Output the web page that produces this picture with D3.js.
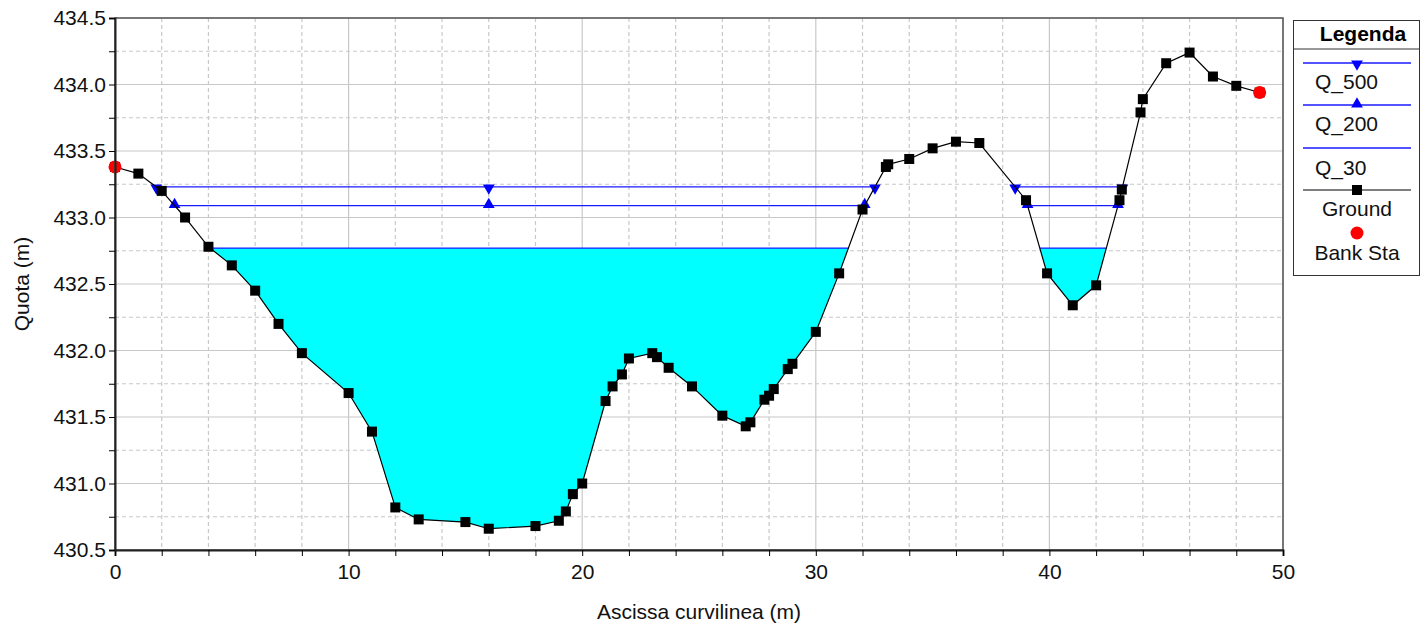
<!DOCTYPE html>
<html><head><meta charset="utf-8">
<script src="https://cdn.jsdelivr.net/npm/d3@7/dist/d3.min.js"></script>
<style>body{margin:0;background:#fff}svg{display:block;font-family:"Liberation Sans",Arial,sans-serif}</style>
</head><body><svg id="c" width="1427" height="631"></svg>
<script>
const groundX = [0,1,2,3,4,5,6,7,8,10,11,12,13,15,16,18,19,19.3,19.6,20,21,21.3,21.7,22,23,23.2,23.7,24.7,26,27,27.2,27.8,28,28.2,28.8,29,30,31,32,33,33.1,34,35,36,37,39,39.9,41,42,43,43.1,43.9,44,45,46,47,48,49];
const groundY = [433.38,433.33,433.2,433.0,432.78,432.64,432.45,432.2,431.98,431.68,431.39,430.82,430.73,430.71,430.66,430.68,430.72,430.79,430.92,431.0,431.62,431.73,431.82,431.94,431.98,431.95,431.87,431.73,431.51,431.43,431.46,431.63,431.66,431.71,431.86,431.9,432.14,432.58,433.06,433.38,433.4,433.44,433.52,433.57,433.56,433.13,432.58,432.34,432.49,433.13,433.21,433.79,433.89,434.16,434.24,434.06,433.99,433.94];
const bankX = [0, 49];
const bankY = [433.38, 433.94];
const profileNames = ["Q_500", "Q_200", "Q_30"];
const profileWS = [433.23, 433.09, 432.77];
const profileMarker = ["down", "up", "none"];
const wsMarkerStations = [16];
const xTicks = [0,10,20,30,40,50];
const yTicks = [430.5,431.0,431.5,432.0,432.5,433.0,433.5,434.0,434.5];
const legendLabels = ["Q_500","Q_200","Q_30","Ground","Bank Sta"];

const svg = d3.select("#c");
const L = 115, R = 1283, T = 18, B = 550;
const FS = 21;
const x = d3.scaleLinear().domain([0,50]).range([L,R]);
const y = d3.scaleLinear().domain([430.5,434.5]).range([B,T]);
const ground = groundX.map((v,i)=>[v,groundY[i]]);

// grid
const g = svg.append("g");
d3.range(0,50.01,2).forEach(v=>{
  const major = Math.abs(v%10)<1e-9;
  g.append("line").attr("x1",x(v)).attr("x2",x(v)).attr("y1",T).attr("y2",B)
    .attr("stroke","#c8c8c8").attr("stroke-width",1.2)
    .attr("stroke-dasharray", major? null : "4,3");
});
d3.range(430.5,434.51,0.25).forEach(v=>{
  const major = Math.abs((v*2)%1)<1e-9;
  g.append("line").attr("x1",L).attr("x2",R).attr("y1",y(v)).attr("y2",y(v))
    .attr("stroke","#c8c8c8").attr("stroke-width",1.2)
    .attr("stroke-dasharray", major? null : "4,3");
});

function wetSegments(ws){
  const segs=[]; let cur=null;
  for(let i=0;i<ground.length;i++){
    const p=ground[i];
    if(p[1]<ws){
      if(!cur){
        cur=[];
        if(i>0){const q=ground[i-1]; const t=(q[1]-ws)/(q[1]-p[1]); cur.push([q[0]+t*(p[0]-q[0]),ws]);}
      }
      cur.push(p);
    } else if(cur){
      const q=ground[i-1]; const t=(q[1]-ws)/(q[1]-p[1]); cur.push([q[0]+t*(p[0]-q[0]),ws]);
      segs.push(cur); cur=null;
    }
  }
  if(cur) segs.push(cur);
  return segs;
}

const lowIdx = 2;
const fillSegs = wetSegments(profileWS[lowIdx]);
const areaLine = d3.line().x(d=>x(d[0])).y(d=>y(d[1]));
fillSegs.forEach(s=>{
  svg.append("path").attr("d", areaLine(s)+"Z").attr("fill","#00ffff").attr("stroke","none");
});

const triDown = d3.symbol().type(d3.symbolTriangle).size(60);
profileWS.forEach((ws,k)=>{
  const segs = wetSegments(ws);
  segs.forEach(s=>{
    const a=s[0][0], b=s[s.length-1][0];
    svg.append("line").attr("x1",x(a)).attr("x2",x(b)).attr("y1",y(ws)).attr("y2",y(ws))
      .attr("stroke","#1a1aff").attr("stroke-width",1.3);
    if(profileMarker[k]!=="none"){
      const pts=[a,b].concat(wsMarkerStations.filter(v=>v>a&&v<b));
      pts.forEach(px=>{
        svg.append("path").attr("d",triDown())
          .attr("transform",`translate(${x(px)},${y(ws)+(profileMarker[k]==="down"?1:-1)}) rotate(${profileMarker[k]==="down"?180:0})`)
          .attr("fill","#0000ff");
      });
    }
  });
});

svg.append("path").attr("d",areaLine(ground)).attr("fill","none").attr("stroke","#000").attr("stroke-width",1.2);
svg.selectAll(".gm").data(ground).enter().append("rect")
  .attr("x",d=>x(d[0])-5).attr("y",d=>y(d[1])-5).attr("width",10).attr("height",10).attr("fill","#000");
svg.selectAll(".bk").data(bankX).enter().append("circle")
  .attr("cx",d=>x(d)).attr("cy",(d,i)=>y(bankY[i])).attr("r",6.5).attr("fill","#ff0000");

svg.append("rect").attr("x",L).attr("y",T).attr("width",R-L).attr("height",B-T)
  .attr("fill","none").attr("stroke","#555").attr("stroke-width",1.5);

const xAxis = d3.axisBottom(x).tickValues(xTicks).tickFormat(d3.format("d")).tickSize(6).tickPadding(4);
const xa = svg.append("g").attr("transform",`translate(0,${B})`).call(xAxis);
const xMinor = d3.axisBottom(x).tickValues(d3.range(0,50.01,2).filter(v=>v%10!==0)).tickFormat("").tickSize(6);
svg.append("g").attr("transform",`translate(0,${B})`).call(xMinor).select(".domain").remove();
const yAxis = d3.axisLeft(y).tickValues(yTicks).tickFormat(d3.format(".1f")).tickSize(6).tickPadding(3);
const ya = svg.append("g").attr("transform",`translate(${L},0)`).call(yAxis);
const yMinor = d3.axisLeft(y).tickValues(d3.range(430.75,434.5,0.5)).tickFormat("").tickSize(6);
svg.append("g").attr("transform",`translate(${L},0)`).call(yMinor).select(".domain").remove();
[xa,ya].forEach(a=>{
  a.select(".domain").attr("stroke","#222").attr("stroke-width",2);
  a.selectAll("text").attr("font-size",FS).attr("fill","#111").attr("font-family","Liberation Sans, Arial, sans-serif");
});
xa.selectAll("text").attr("dy","0.9em");

svg.append("text").attr("x",(L+R)/2).attr("y",619).attr("text-anchor","middle")
  .attr("font-size",FS).attr("fill","#111").text("Ascissa curvilinea (m)");
svg.append("text").attr("transform",`translate(29,${(T+B)/2}) rotate(-90)`).attr("text-anchor","middle")
  .attr("font-size",FS).attr("fill","#111").text("Quota (m)");

const lg = svg.append("g");
lg.append("rect").attr("x",1293.5).attr("y",20.5).attr("width",126).attr("height",255).attr("fill","#fff").attr("stroke","#333");
lg.append("line").attr("x1",1293.5).attr("x2",1419.5).attr("y1",49).attr("y2",49).attr("stroke","#333");
lg.append("text").attr("x",1363).attr("y",41).attr("text-anchor","middle").attr("font-weight","bold").attr("font-size",FS).text("Legenda");
const lineY=[63,105,148,190], textY=[89,131,175,216];
[0,1,2].forEach(i=>{
  lg.append("line").attr("x1",1303).attr("x2",1411).attr("y1",lineY[i]).attr("y2",lineY[i]).attr("stroke","#1a1aff").attr("stroke-width",1.3);
  if(profileMarker[i]!=="none") lg.append("path").attr("d",triDown())
    .attr("transform",`translate(1357,${lineY[i]+(profileMarker[i]==="down"?1:-1)}) rotate(${profileMarker[i]==="down"?180:0})`).attr("fill","#0000ff");
  lg.append("text").attr("x",1315).attr("y",textY[i]).attr("font-size",FS).attr("fill","#111").text(legendLabels[i]);
});
lg.append("line").attr("x1",1303).attr("x2",1411).attr("y1",lineY[3]).attr("y2",lineY[3]).attr("stroke","#000").attr("stroke-width",1.2);
lg.append("rect").attr("x",1352).attr("y",lineY[3]-5).attr("width",10).attr("height",10).attr("fill","#000");
lg.append("text").attr("x",1357).attr("y",textY[3]).attr("text-anchor","middle").attr("font-size",FS).attr("fill","#111").text(legendLabels[3]);
lg.append("circle").attr("cx",1357).attr("cy",233).attr("r",6.5).attr("fill","#ff0000");
lg.append("text").attr("x",1357).attr("y",260).attr("text-anchor","middle").attr("font-size",FS).attr("fill","#111").text(legendLabels[4]);
</script></body></html>
